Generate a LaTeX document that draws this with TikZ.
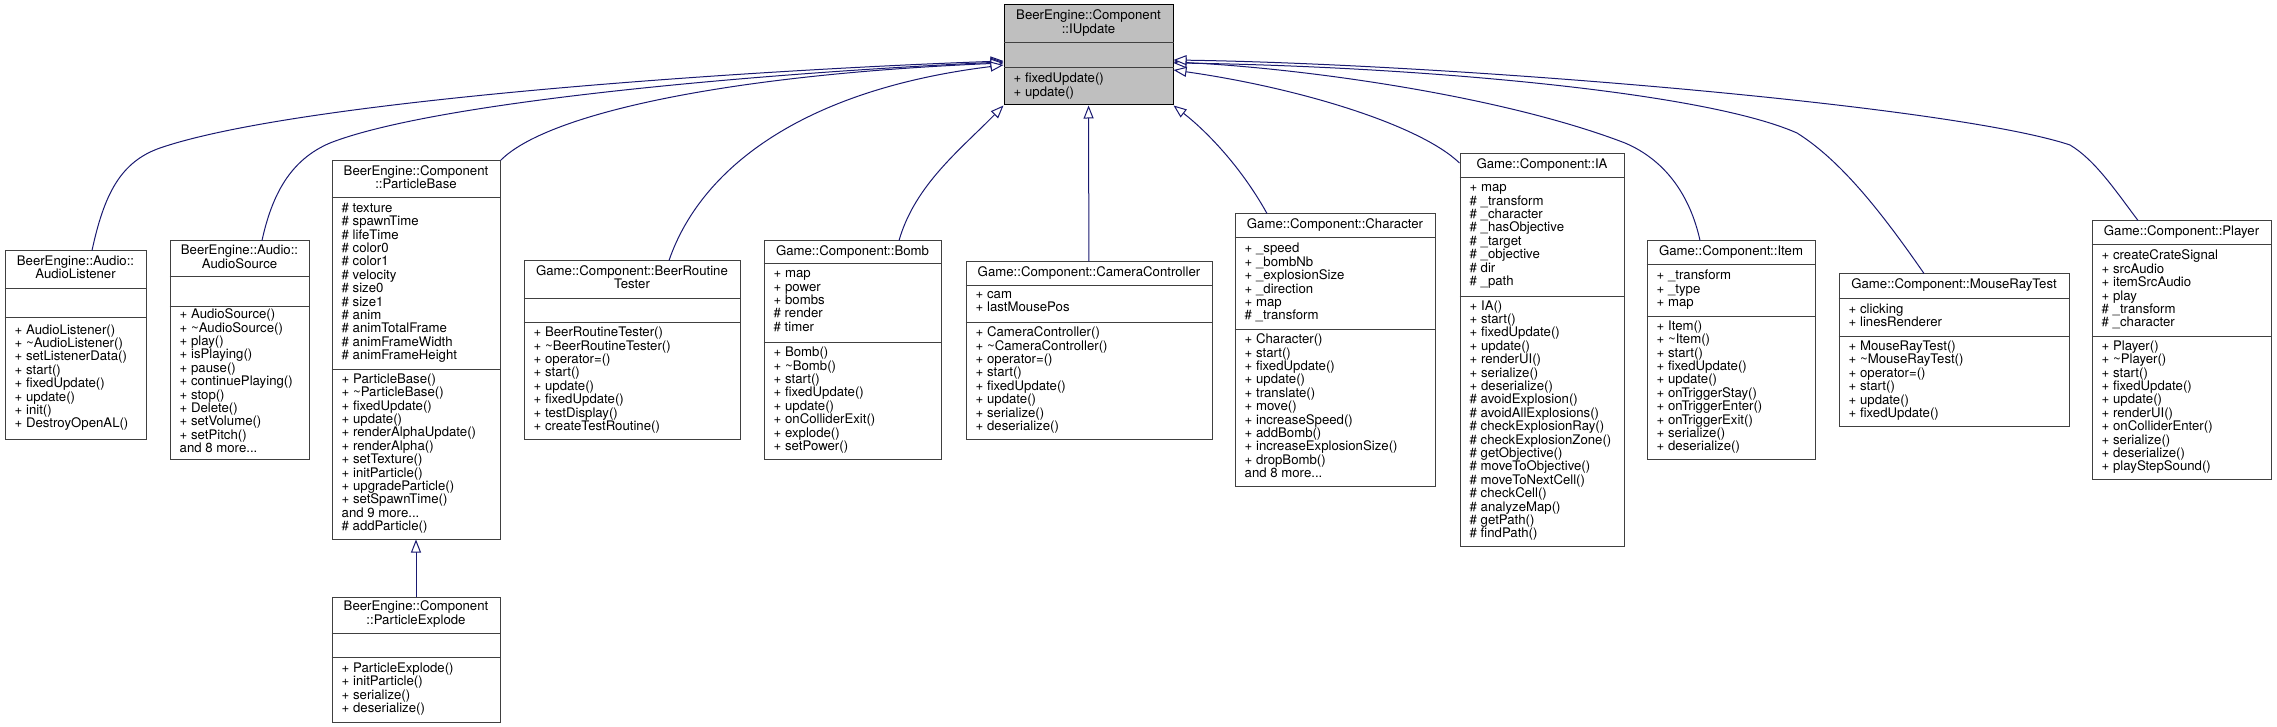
\documentclass[tikz,border=0pt]{standalone}
\usepackage{fontspec}
\setmainfont{TeX Gyre Heros}
\usepackage{tikz}
\usetikzlibrary{positioning, arrows.meta, calc}

\definecolor{edgeblue}{RGB}{25,25,112}
\definecolor{focusgrey}{RGB}{191,191,191}

\tikzset{
  box/.style={draw=black!75, fill=white, line width=1pt, inner sep=0pt},
  rule/.style={draw=black!75, line width=1pt},
  title/.style={align=center, inner sep=0pt, execute at begin node=\strut, execute at end node=\strut},
  list/.style={anchor=west, align=left, inner xsep=10pt, inner ysep=0pt, execute at begin node=\strut, execute at end node=\strut},
  generalization/.style={draw=edgeblue, line width=1pt},
  >={Triangle[length=13pt, width=10pt, fill=white]}
}

% box name, first rule, second rule, name, attributes, operations
\newcommand{\members}[6]{%
  \draw[rule] (#1.west |- 0,#2) -- (#1.east |- 0,#2);
  \draw[rule] (#1.west |- 0,#3) -- (#1.east |- 0,#3);
  \node[title] (#1_name) at ($(#1.north)!.5!(#1.north |- 0,#2)$) {#4};
  \node[list] (#1_attr) at ($(#1.west |- 0,#2)!.5!(#1.west |- 0,#3)$) {#5};
  \node[list] (#1_ops) at ($(#1.west |- 0,#3)!.5!(#1.south west)$) {#6};
}

\begin{document}
\begin{tikzpicture}[x=1pt, y=-1pt, font=\fontsize{13.2}{13.4}\selectfont]
        \useasboundingbox (0,0) rectangle (2277,727);
        \node[box, fill=focusgrey, draw=black, minimum width=169, minimum height=100] (IUpdate) at (1088.5,55) {};
        \node[box, minimum width=141, minimum height=188] (AudioListener) at (75.5,345) {};
        \node[box, minimum width=139, minimum height=218] (AudioSource) at (239.5,350) {};
        \node[box, minimum width=168, minimum height=378] (ParticleBase) at (416,350) {};
        \node[box, minimum width=168, minimum height=125, below=57pt of ParticleBase] (ParticleExplode) {};
        \node[box, minimum width=216, minimum height=178] (BeerRoutineTester) at (632,350) {};
        \node[box, minimum width=177, minimum height=218] (Bomb) at (852.5,350) {};
        \node[box, minimum width=246, minimum height=177] (CameraController) at (1089,350.5) {};
        \node[box, minimum width=200, minimum height=272] (Character) at (1335,350) {};
        \node[box, minimum width=164, minimum height=392] (IA) at (1542,350) {};
        \node[box, minimum width=168, minimum height=218] (Item) at (1731,350) {};
        \node[box, minimum width=230, minimum height=152] (MouseRayTest) at (1954,350) {};
        \node[box, minimum width=179, minimum height=258] (Player) at (2181.5,350) {};

        \members{IUpdate}{43}{68}{BeerEngine::Component\\::IUpdate}{}{+ fixedUpdate()\\+ update()}
        \members{AudioListener}{288}{317}{BeerEngine::Audio::\\AudioListener}{}{+ AudioListener()\\+ \textasciitilde AudioListener()\\+ setListenerData()\\+ start()\\+ fixedUpdate()\\+ update()\\+ init()\\+ DestroyOpenAL()}
        \members{AudioSource}{277}{306}{BeerEngine::Audio::\\AudioSource}{}{+ AudioSource()\\+ \textasciitilde AudioSource()\\+ play()\\+ isPlaying()\\+ pause()\\+ continuePlaying()\\+ stop()\\+ Delete()\\+ setVolume()\\+ setPitch()\\and 8 more...}
        \members{ParticleBase}{198}{369}{BeerEngine::Component\\::ParticleBase}{\# texture\\\# spawnTime\\\# lifeTime\\\# color0\\\# color1\\\# velocity\\\# size0\\\# size1\\\# anim\\\# animTotalFrame\\\# animFrameWidth\\\# animFrameHeight}{+ ParticleBase()\\+ \textasciitilde ParticleBase()\\+ fixedUpdate()\\+ update()\\+ renderAlphaUpdate()\\+ renderAlpha()\\+ setTexture()\\+ initParticle()\\+ upgradeParticle()\\+ setSpawnTime()\\and 9 more...\\\# addParticle()}
        \members{ParticleExplode}{633}{657}{BeerEngine::Component\\::ParticleExplode}{}{+ ParticleExplode()\\+ initParticle()\\+ serialize()\\+ deserialize()}
        \members{BeerRoutineTester}{298}{322}{Game::Component::BeerRoutine\\Tester}{}{+ BeerRoutineTester()\\+ \textasciitilde BeerRoutineTester()\\+ operator=()\\+ start()\\+ update()\\+ fixedUpdate()\\+ testDisplay()\\+ createTestRoutine()}
        \members{Bomb}{264}{342}{Game::Component::Bomb}{+ map\\+ power\\+ bombs\\\# render\\\# timer}{+ Bomb()\\+ \textasciitilde Bomb()\\+ start()\\+ fixedUpdate()\\+ update()\\+ onColliderExit()\\+ explode()\\+ setPower()}
        \members{CameraController}{285}{322}{Game::Component::CameraController}{+ cam\\+ lastMousePos}{+ CameraController()\\+ \textasciitilde CameraController()\\+ operator=()\\+ start()\\+ fixedUpdate()\\+ update()\\+ serialize()\\+ deserialize()}
        \members{Character}{238}{329}{Game::Component::Character}{+ \_speed\\+ \_bombNb\\+ \_explosionSize\\+ \_direction\\+ map\\\# \_transform}{+ Character()\\+ start()\\+ fixedUpdate()\\+ update()\\+ translate()\\+ move()\\+ increaseSpeed()\\+ addBomb()\\+ increaseExplosionSize()\\+ dropBomb()\\and 8 more...}
        \members{IA}{178}{296}{Game::Component::IA}{+ map\\\# \_transform\\\# \_character\\\# \_hasObjective\\\# \_target\\\# \_objective\\\# dir\\\# \_path}{+ IA()\\+ start()\\+ fixedUpdate()\\+ update()\\+ renderUI()\\+ serialize()\\+ deserialize()\\\# avoidExplosion()\\\# avoidAllExplosions()\\\# checkExplosionRay()\\\# checkExplosionZone()\\\# getObjective()\\\# moveToObjective()\\\# moveToNextCell()\\\# checkCell()\\\# analyzeMap()\\\# getPath()\\\# findPath()}
        \members{Item}{265}{316}{Game::Component::Item}{+ \_transform\\+ \_type\\+ map}{+ Item()\\+ \textasciitilde Item()\\+ start()\\+ fixedUpdate()\\+ update()\\+ onTriggerStay()\\+ onTriggerEnter()\\+ onTriggerExit()\\+ serialize()\\+ deserialize()}
        \members{MouseRayTest}{298}{336}{Game::Component::MouseRayTest}{+ clicking\\+ linesRenderer}{+ MouseRayTest()\\+ \textasciitilde MouseRayTest()\\+ operator=()\\+ start()\\+ update()\\+ fixedUpdate()}
        \members{Player}{245}{336}{Game::Component::Player}{+ createCrateSignal\\+ srcAudio\\+ itemSrcAudio\\+ play\\\# \_transform\\\# \_character}{+ Player()\\+ \textasciitilde Player()\\+ start()\\+ fixedUpdate()\\+ update()\\+ renderUI()\\+ onColliderEnter()\\+ serialize()\\+ deserialize()\\+ playStepSound()}

        \path[generalization, ->]
                (ParticleExplode) edge (ParticleBase)
                (CameraController) edge (IUpdate);
        \draw[generalization, ->] (AudioListener.north -| 92,0) .. controls (104,195) and (120,162) .. (160,148) .. controls (300,100) and (750,70) .. (IUpdate.west |- 0,61);
        \draw[generalization, ->] (AudioSource.north -| 262,0) .. controls (272,195) and (290,160) .. (330,143) .. controls (440,100) and (780,72) .. (IUpdate.west |- 0,62);
        \draw[generalization, ->] (ParticleBase.north east) .. controls (545,115) and (720,75) .. (IUpdate.west |- 0,63);
        \draw[generalization, ->] (BeerRoutineTester.north -| 669,0) .. controls (700,170) and (800,90) .. (IUpdate.west |- 0,65);
        \draw[generalization, ->] (Bomb.north -| 899,0) .. controls (915,185) and (960,150) .. (IUpdate.south west);
        \draw[generalization, ->] (Character.north -| 1267,0) .. controls (1240,165) and (1205,130) .. (IUpdate.south east);
        \draw[generalization, ->] (IA.west |- 0,163) .. controls (1420,125) and (1300,88) .. (IUpdate.east |- 0,70);
        \draw[generalization, ->] (Item.north -| 1700,0) .. controls (1690,195) and (1665,160) .. (1625,143) .. controls (1500,95) and (1300,68) .. (IUpdate.east |- 0,62);
        \draw[generalization, ->] (MouseRayTest.north -| 1924,0) .. controls (1880,210) and (1840,160) .. (1797,133) .. controls (1700,90) and (1400,66) .. (IUpdate.east |- 0,63);
        \draw[generalization, ->] (Player.north -| 2138,0) .. controls (2115,190) and (2095,160) .. (2070,145) .. controls (1950,105) and (1450,64) .. (IUpdate.east |- 0,60);
\end{tikzpicture}
\end{document}
